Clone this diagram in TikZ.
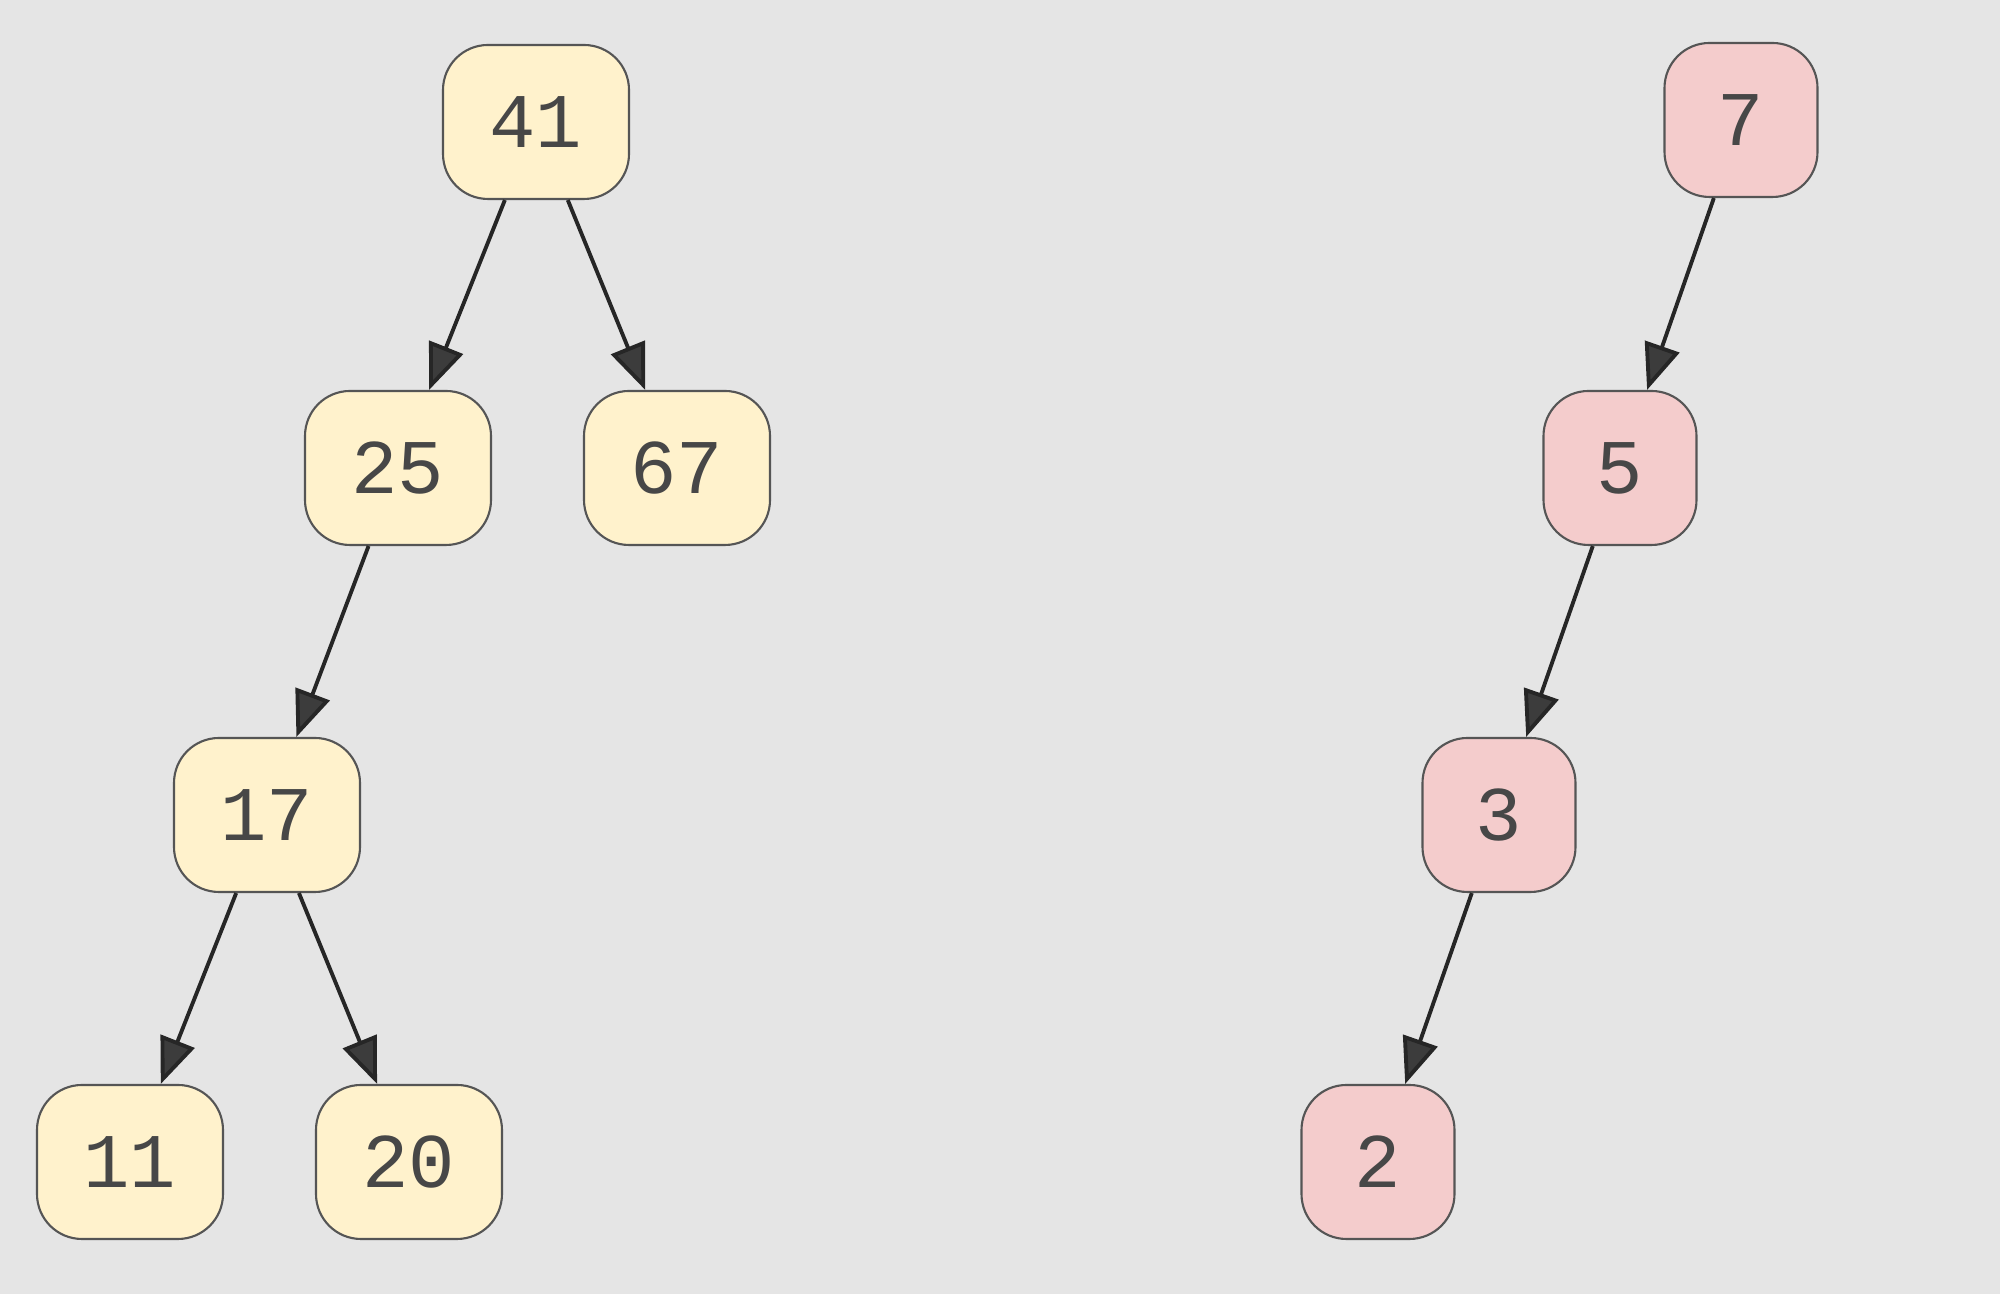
\documentclass[tikz,border=0pt]{standalone}
\usepackage{fontspec}
\setmonofont{Liberation Mono}
\usepackage{tikz}
\usetikzlibrary{arrows.meta, positioning}
\definecolor{bggray}{RGB}{229,229,229}
\definecolor{heapcream}{RGB}{255,242,204}
\definecolor{heappink}{RGB}{244,204,204}
\definecolor{edgegray}{RGB}{85,85,85}
\definecolor{tipgray}{RGB}{60,60,60}
\tikzset{
  key/.style={rectangle, rounded corners=0.45cm, draw=edgegray, line width=0.6pt,
    minimum height=1.54cm, inner sep=0pt, text=black!72,
    font=\ttfamily\fontsize{22}{26}\selectfont},
  maxkey/.style={key, fill=heapcream, minimum width=1.86cm},
  minkey/.style={key, fill=heappink, minimum width=1.53cm},
  link/.style={-{Triangle[length=0.46cm, width=0.36cm, fill=tipgray]},
    line width=1.1pt, draw=black!85},
}
\begin{document}
\begin{tikzpicture}
  \fill[bggray] (0,0) rectangle (20,12.94);
  \useasboundingbox (0,0) rectangle (20,12.94);

  % left tree
  \node[maxkey] (n41) at (5.36,11.72) {41};
  \node[maxkey] (n25) at (3.98,8.26) {25};
  \node[maxkey] (n67) at (6.77,8.26) {67};
  \node[maxkey] (n17) at (2.67,4.79) {17};
  \node[maxkey] (n11) at (1.30,1.32) {11};
  \node[maxkey] (n20) at (4.09,1.32) {20};

  % right tree
  \node[minkey] (n7) at (17.41,11.74) {7};
  \node[minkey] (n5) at (16.20,8.26) {5};
  \node[minkey] (n3) at (14.99,4.79) {3};
  \node[minkey] (n2) at (13.78,1.32) {2};

  \draw[link] (n41) -- (n25);
  \draw[link] (n41) -- (n67);
  \draw[link] (n25) -- (n17);
  \draw[link] (n17) -- (n11);
  \draw[link] (n17) -- (n20);
  \draw[link] (n7) -- (n5);
  \draw[link] (n5) -- (n3);
  \draw[link] (n3) -- (n2);
\end{tikzpicture}
\end{document}
